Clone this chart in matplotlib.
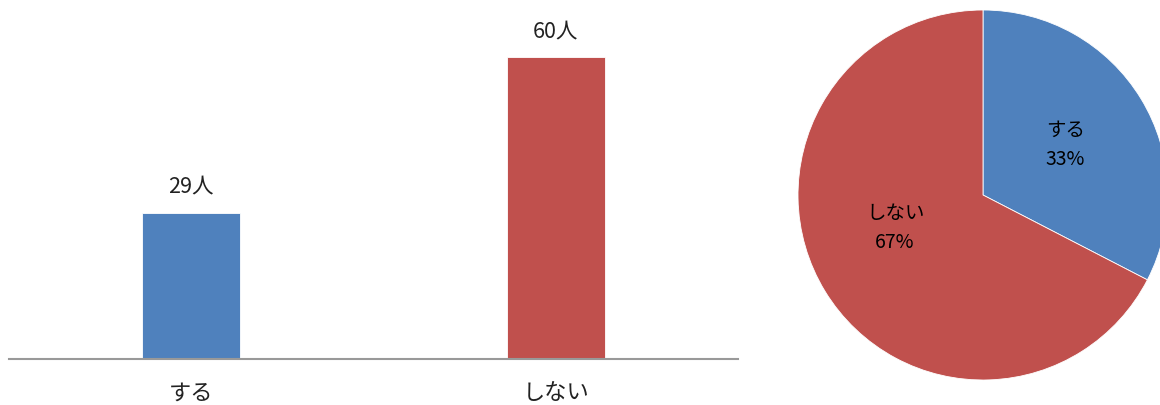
import matplotlib
matplotlib.use("Agg")
import matplotlib.pyplot as plt

plt.rcParams['font.family'] = ['Noto Sans CJK JP', 'DejaVu Sans']

categories = ['する', 'しない']
counts = [29, 60]
colors = ['#4F81BD', '#C0504D']

fig = plt.figure(figsize=(11.6, 4.05), dpi=100)

# bar chart
ax = fig.add_axes([9 / 1160, (405 - 359) / 405, 729 / 1160, 350 / 405])
x = list(range(len(categories)))
bars = ax.bar(x, counts, width=0.27, color=colors, edgecolor='white', linewidth=0.6)
for b, v in zip(bars, counts):
    ax.annotate(f'{v}人', (b.get_x() + b.get_width() / 2, v), xytext=(0, 11),
                textcoords='offset points', ha='center', va='bottom',
                fontsize=15.5, color='#222222')
ax.set_xlim(-0.5, 1.5)
ax.set_ylim(0, 69.6)
ax.set_xticks(x)
ax.set_xticklabels(categories, fontsize=16, color='#222222')
ax.tick_params(axis='x', length=0, pad=16)
ax.set_yticks([])
for s in ['top', 'left', 'right']:
    ax.spines[s].set_visible(False)
ax.spines['bottom'].set_color('#999999')
ax.spines['bottom'].set_linewidth(1.5)

# pie chart
pax = fig.add_axes([798 / 1160, (405 - 380) / 405, 370 / 1160, 370 / 405])
total = sum(counts)
wedges, texts, autotexts = pax.pie(
    counts, colors=colors, startangle=90, counterclock=False,
    autopct=lambda p: '', pctdistance=0.52,
    wedgeprops=dict(edgecolor='white', linewidth=0.6))
for t, c, v in zip(autotexts, categories, counts):
    t.set_text(f'{c}\n{round(v / total * 100)}%')
    t.set_fontsize(14)
    t.set_linespacing(1.5)
    t.set_color('black')
# Excel puts the big slice's label a bit higher
autotexts[1].set_position((-0.475, -0.18))
pax.set_xlim(-1, 1)
pax.set_ylim(-1, 1)
pax.set_aspect('equal')
pax.axis('off')

fig.savefig('out.png', dpi=100)
